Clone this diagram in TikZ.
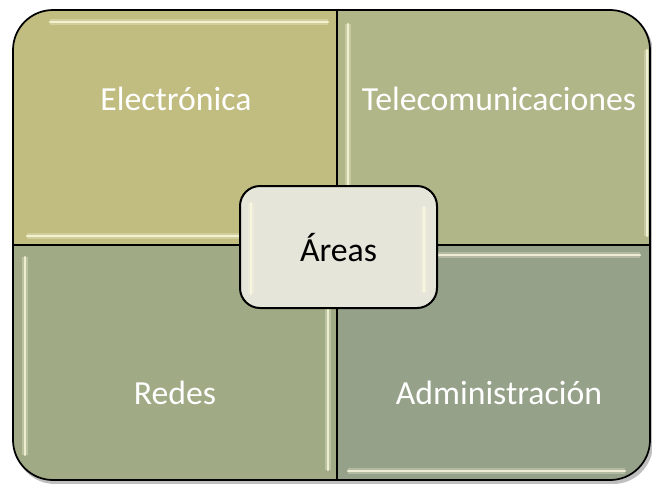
\documentclass[tikz,border=0pt]{standalone}
\usepackage{fontspec}
\setmainfont{Carlito}
\definecolor{tlcol}{RGB}{193,188,128}
\definecolor{trcol}{RGB}{176,182,135}
\definecolor{blcol}{RGB}{160,170,133}
\definecolor{brcol}{RGB}{150,161,137}
\definecolor{midcol}{RGB}{230,229,218}
\definecolor{glosscol}{RGB}{250,250,222}
\begin{document}
\begin{tikzpicture}[x=0.75pt,y=-0.75pt,
    quad/.style={text=white,font=\fontsize{25.3}{30}\selectfont,anchor=base,inner sep=0pt},
    gloss/.style={line width=2.2pt,draw=glosscol,opacity=.8,line cap=round,
                  preaction={draw=glosscol,line width=4.5pt,opacity=.3}},
    mid/.style={draw,line width=1.5pt,fill=midcol,rounded corners=15pt,minimum width=147.75pt,minimum height=91.5pt,
                font=\fontsize{25.3}{30}\selectfont,text depth=0pt}]
    \useasboundingbox (0,0) rectangle (652,483);
    % shadow and quadrants
    \fill[black,opacity=.25,rounded corners=30pt] (15,13) rectangle (653,484);
    \begin{scope}
        \clip[rounded corners=30pt] (13,10) rectangle (650,480);
        \fill[tlcol] (13,10) rectangle (337,245);
        \fill[trcol] (337,10) rectangle (650,245);
        \fill[blcol] (13,245) rectangle (337,480);
        \fill[brcol] (337,245) rectangle (650,480);
        % highlights
        \draw[gloss] (50,22) -- (328,22);
        \draw[gloss] (27,236) -- (328,236);
        \draw[gloss] (348,24) -- (348,236);
        \draw[gloss] (647,50) -- (647,236);
        \draw[gloss] (25,257) -- (25,455);
        \draw[gloss] (328,257) -- (328,470);
        \draw[gloss] (348,255) -- (640,255);
        \draw[gloss] (348,471) -- (625,471);
    \end{scope}
    \draw[line width=1.3pt,rounded corners=30pt] (13,10) rectangle (650,480);
    \draw[line width=1pt] (337,10) -- (337,480) (13,245) -- (650,245);
    \node[quad] (elec) at (176,110) {Electrónica};
    \node[quad] (tele) at (499,110) {Telecomunicaciones};
    \node[quad] (redes) at (175,404) {Redes};
    \node[quad] (admin) at (499,404) {Administración};
    \node[mid] (areas) at (338.5,247) {Áreas};
    \draw[gloss] (251,203) -- (251,294);
    \draw[gloss] (424,207) -- (424,292);
\end{tikzpicture}
\end{document}
